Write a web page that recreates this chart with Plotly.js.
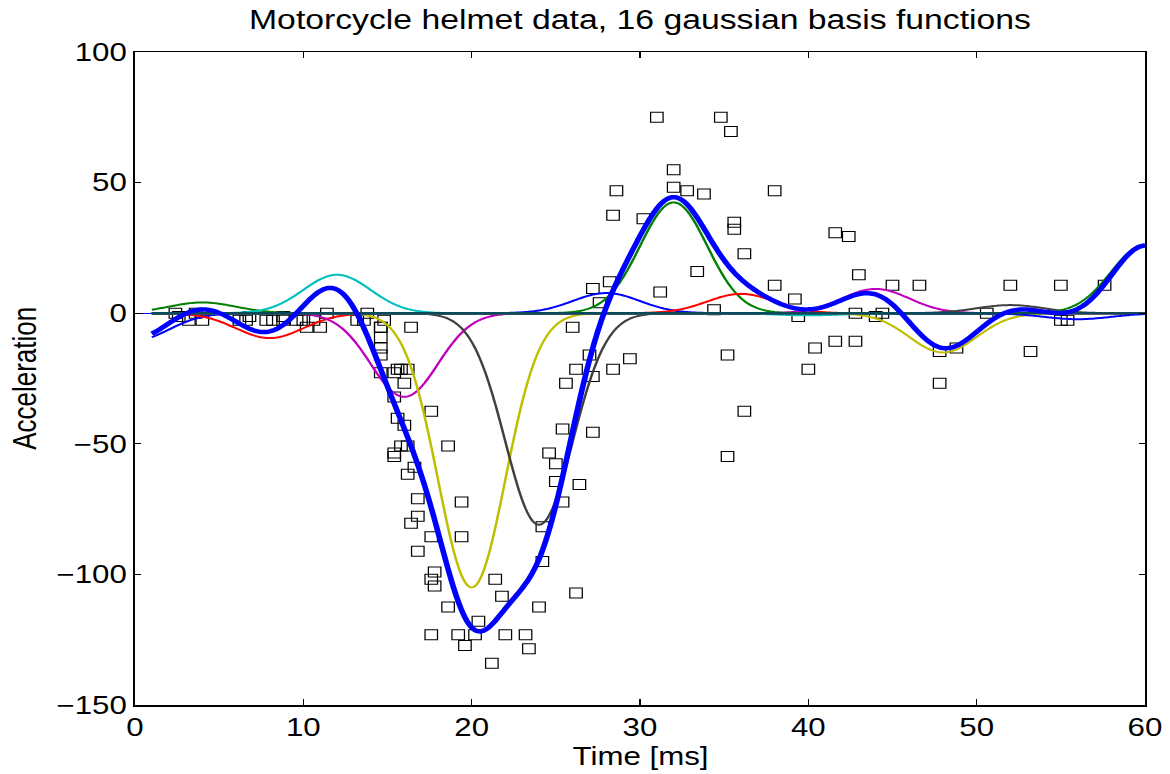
<!DOCTYPE html>
<html>
<head>
<meta charset="utf-8">
<script src="https://cdn.plot.ly/plotly-3.0.1.min.js"></script>
<style>
  html, body { margin: 0; padding: 0; background: #fff; overflow: hidden; }
  #chart { width: 936px; height: 774px; transform: scaleX(1.25); transform-origin: 0 0; }
</style>
</head>
<body>
<div id="chart"></div>
<script>
// Motorcycle helmet data: time [ms] and head acceleration
const times = [2.4, 2.6, 3.2, 3.6, 4.0, 6.2, 6.6, 6.8, 7.8, 8.2, 8.8, 8.8, 9.6, 10.0, 10.2, 10.6, 11.0, 11.4, 13.2, 13.6,
  13.8, 14.6, 14.6, 14.6, 14.6, 14.6, 14.6, 14.8, 15.4, 15.4, 15.4, 15.4, 15.6, 15.6, 15.8, 15.8, 16.0, 16.0, 16.2, 16.2,
  16.2, 16.4, 16.4, 16.6, 16.8, 16.8, 16.8, 17.6, 17.6, 17.6, 17.6, 17.8, 17.8, 18.6, 18.6, 19.2, 19.4, 19.4, 19.6, 20.2,
  20.4, 21.2, 21.4, 21.8, 22.0, 23.2, 23.4, 24.0, 24.2, 24.2, 24.6, 25.0, 25.0, 25.4, 25.4, 25.6, 26.0, 26.2, 26.2, 26.4,
  27.0, 27.2, 27.2, 27.2, 27.6, 28.2, 28.4, 28.4, 28.6, 29.4, 30.2, 31.0, 31.2, 32.0, 32.0, 32.8, 33.4, 33.8, 34.4, 34.8,
  35.2, 35.2, 35.4, 35.6, 35.6, 36.2, 36.2, 38.0, 38.0, 39.2, 39.4, 40.0, 40.4, 41.6, 41.6, 42.4, 42.8, 42.8, 43.0, 44.0,
  44.4, 45.0, 46.6, 47.8, 47.8, 48.8, 50.6, 52.0, 53.2, 55.0, 55.0, 55.4, 57.6];
const accel = [0.0, -1.3, -2.7, 0.0, -2.7, -2.7, -2.7, -1.3, -2.7, -2.7, -1.3, -2.7, -2.7, -2.7, -5.4, -2.7, -5.4, 0.0, -2.7, -2.7,
  0.0, -13.3, -5.4, -5.4, -9.3, -16.0, -22.8, -2.7, -22.8, -32.1, -53.5, -54.9, -40.2, -21.5, -21.5, -50.8, -42.9, -26.8, -21.5, -50.8,
  -61.7, -5.4, -80.4, -59.0, -71.0, -91.1, -77.7, -37.5, -85.6, -123.1, -101.9, -99.1, -104.4, -112.5, -50.8, -123.1, -85.6, -72.3, -127.2, -123.1,
  -117.9, -134.0, -101.9, -108.4, -123.1, -123.1, -128.5, -112.5, -95.1, -81.8, -53.5, -64.4, -57.6, -72.3, -44.3, -26.8, -5.4, -107.1, -21.5, -65.6,
  -16.0, -45.6, -24.2, 9.5, 4.0, 12.0, -21.5, 37.5, 46.9, -17.4, 36.2, 75.0, 8.1, 54.9, 48.2, 46.9, 16.0, 45.6, 1.3, 75.0,
  -16.0, -54.9, 69.6, 34.8, 32.1, -37.5, 22.8, 46.9, 10.7, 5.4, -1.3, -21.5, -13.3, 30.8, -10.7, 29.4, 0.0, -10.7, 14.7, -1.3,
  0.0, 10.7, 10.7, -26.8, -14.7, -13.3, 0.0, 10.7, -14.7, -2.7, 10.7, -2.7, 10.7];

// 16 gaussian basis functions: centres, fitted weights and common width
const centers = [0, 4, 8, 12, 16, 20, 24, 28, 32, 36, 40, 44, 48, 52, 56, 60];
const weights = [-10.4, 4.1, -9.5, 14.7, -32, -105, -81, 7.7, 42.4, 7.4, -0.8, 9.3, -15, 3.1, -2.3, 26.2];
const basisSigma = 2;
const curveStart = 1, curveEnd = 60, curveStep = 0.1;

const tickX = [0, 10, 20, 30, 40, 50, 60];
const tickY = [-150, -100, -50, 0, 50, 100];

const colorOrder = ['rgb(0,0,255)', 'rgb(0,128,0)', 'rgb(255,0,0)', 'rgb(0,191,191)',
                    'rgb(191,0,191)', 'rgb(191,191,0)', 'rgb(64,64,64)'];

const xGrid = [];
for (let i = 0; curveStart + i * curveStep <= curveEnd + 1e-9; i++) xGrid.push(+(curveStart + i * curveStep).toFixed(4));

function basis(x, c) { return Math.exp(-((x - c) * (x - c)) / (2 * basisSigma * basisSigma)); }

const traces = [];
traces.push({
  x: times, y: accel, type: 'scatter', mode: 'markers',
  marker: { symbol: 'square-open', size: 10, color: 'rgb(0,0,0)', line: { width: 1, color: 'rgb(0,0,0)' } },
  hoverinfo: 'x+y', showlegend: false
});

const total = xGrid.map(() => 0);
centers.forEach((c, k) => {
  const y = xGrid.map(x => weights[k] * basis(x, c));
  y.forEach((v, j) => { total[j] += v; });
  traces.push({
    x: xGrid, y: y, type: 'scatter', mode: 'lines',
    line: { color: colorOrder[k % colorOrder.length], width: 2, simplify: false },
    showlegend: false, hoverinfo: 'skip'
  });
});

// overlapping zero-level portions of all basis curves
traces.push({
  x: [xGrid[0], xGrid[xGrid.length - 1]], y: [0, 0], type: 'scatter', mode: 'lines',
  line: { color: 'rgb(10,70,95)', width: 2 }, showlegend: false, hoverinfo: 'skip'
});

traces.push({
  x: xGrid, y: total, type: 'scatter', mode: 'lines',
  line: { color: 'rgb(0,0,255)', width: 4.5, simplify: false }, showlegend: false, hoverinfo: 'skip'
});

const font = { family: '"Liberation Sans", Arial, Helvetica, sans-serif', color: '#000' };

const layout = {
  width: 936, height: 774,
  margin: { l: 108, r: 20, t: 52, b: 69 },
  paper_bgcolor: '#fff', plot_bgcolor: '#fff',
  font: Object.assign({ size: 25 }, font),
  title: {
    text: 'Motorcycle helmet data, 16 gaussian basis functions',
    font: Object.assign({ size: 27 }, font),
    x: 0.5, xref: 'paper', xanchor: 'center',
    y: 0.9746, yref: 'container', yanchor: 'middle'
  },
  xaxis: {
    range: [0, 60], tickvals: tickX, ticktext: tickX.map(String),
    ticks: 'inside', ticklen: 6, tickwidth: 1, tickcolor: '#000',
    showline: true, linecolor: '#000', linewidth: 1.5, mirror: 'ticks',
    showgrid: false, zeroline: false,
    tickfont: Object.assign({ size: 25 }, font),
    automargin: false
  },
  yaxis: {
    range: [-150, 100], tickvals: tickY, ticktext: tickY.map(v => v < 0 ? '\u2212' + Math.abs(v) : String(v)),
    ticks: 'inside', ticklen: 5, tickwidth: 1, tickcolor: '#000',
    showline: true, linecolor: '#000', linewidth: 1.5, mirror: 'ticks',
    showgrid: false,
    zeroline: true, zerolinecolor: 'rgb(0,0,255)', zerolinewidth: 1,
    tickfont: Object.assign({ size: 25 }, font),
    automargin: false
  },
  annotations: [
    { text: 'Time [ms]', xref: 'paper', yref: 'paper', x: 0.5, y: -0.0781,
      xanchor: 'center', yanchor: 'middle', showarrow: false, font: Object.assign({ size: 25 }, font) },
    { text: 'Acceleration', xref: 'paper', yref: 'paper', x: -0.1097, y: 0.5, textangle: -90,
      xanchor: 'center', yanchor: 'middle', showarrow: false, font: Object.assign({ size: 26 }, font) }
  ],
  showlegend: false
};

Plotly.newPlot('chart', traces, layout, { displayModeBar: false, staticPlot: true });
</script>
</body>
</html>
